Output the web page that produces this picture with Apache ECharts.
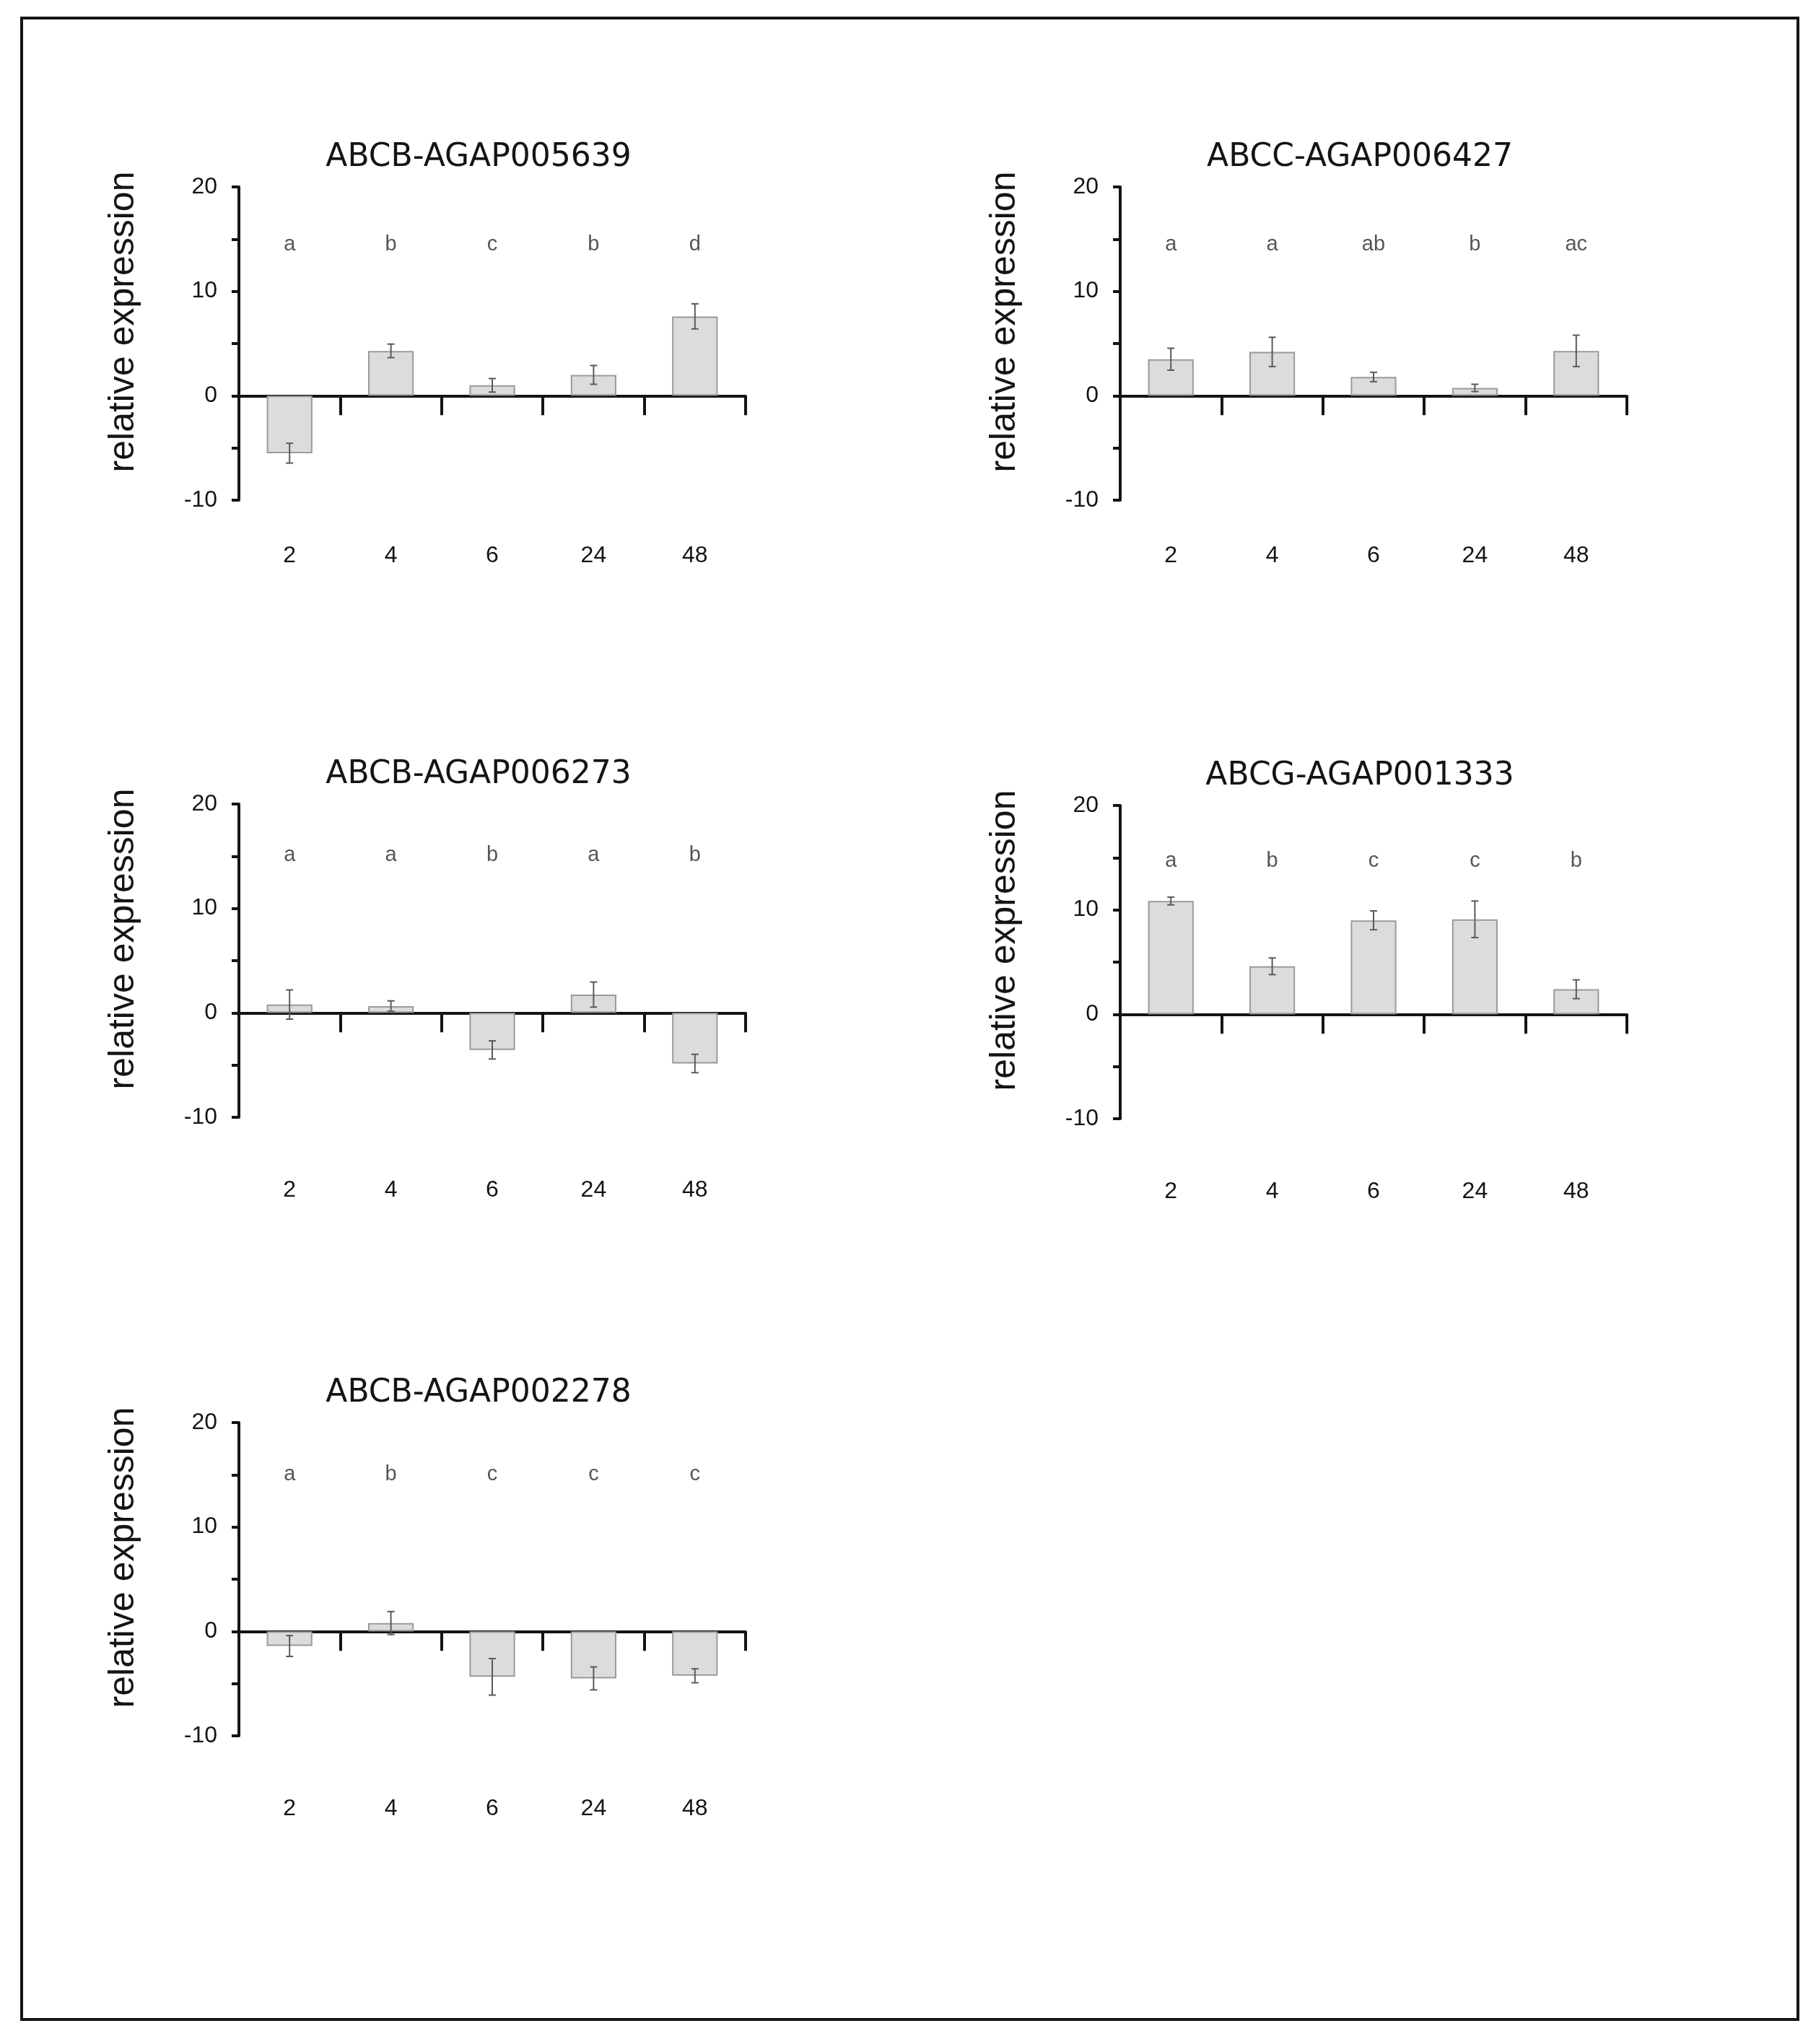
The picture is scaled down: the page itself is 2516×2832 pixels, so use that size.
<!DOCTYPE html>
<html>
<head>
<meta charset="utf-8">
<title>Relative expression of ABC transporters</title>
<script src="https://cdn.jsdelivr.net/npm/echarts@6/dist/echarts.min.js"></script>
<style>
  html, body { margin: 0; padding: 0; background: #fff; }
  #chart { width: 2516px; height: 2832px; }
</style>
</head>
<body>
<div id="chart"></div>
<script>
// ---- data ----
const TIMES = ['2', '4', '6', '24', '48'];
const GENES = ['ABCB-AGAP005639', 'ABCC-AGAP006427', 'ABCB-AGAP006273', 'ABCG-AGAP001333', 'ABCB-AGAP002278'];

const MEAN_005639 = [-5.5, 4.3, 1.0, 2.0, 7.6];
const ERR_005639  = [0.95, 0.65, 0.65, 0.9, 1.2];
const LET_005639  = ['a', 'b', 'c', 'b', 'd'];

const MEAN_006427 = [3.5, 4.2, 1.8, 0.75, 4.3];
const ERR_006427  = [1.05, 1.4, 0.45, 0.35, 1.5];
const LET_006427  = ['a', 'a', 'ab', 'b', 'ac'];

const MEAN_006273 = [0.8, 0.65, -3.55, 1.75, -4.85];
const ERR_006273  = [1.4, 0.5, 0.87, 1.2, 0.88];
const LET_006273  = ['a', 'a', 'b', 'a', 'b'];

const MEAN_001333 = [10.85, 4.6, 9.0, 9.1, 2.4];
const ERR_001333  = [0.37, 0.8, 0.9, 1.75, 0.9];
const LET_001333  = ['a', 'b', 'c', 'c', 'b'];

const MEAN_002278 = [-1.4, 0.8, -4.35, -4.5, -4.25];
const ERR_002278  = [1.0, 1.1, 1.75, 1.1, 0.67];
const LET_002278  = ['a', 'b', 'c', 'c', 'c'];

// height (in y units) at which the significance letters sit
const LETTER_LEVEL = [14.5, 14.5, 15.1, 14.7, 15.0];

const Y_MIN = -10, Y_MAX = 20, Y_TICK = 5, Y_LABEL_STEP = 10;
const Y_NAME = 'relative expression';

const MEANS = [MEAN_005639, MEAN_006427, MEAN_006273, MEAN_001333, MEAN_002278];
const ERRS = [ERR_005639, ERR_006427, ERR_006273, ERR_001333, ERR_002278];
const LETTERS = [LET_005639, LET_006427, LET_006273, LET_001333, LET_002278];

// ---- layout of the five panels (px) ----
const PANELS = [
  { left: 331,  top: 259,  labelGap: 61 },
  { left: 1552, top: 259,  labelGap: 61 },
  { left: 331,  top: 1114, labelGap: 85 },
  { left: 1552, top: 1116, labelGap: 85 },
  { left: 331,  top: 1971, labelGap: 85 }
];
const PW = 702, PH = 434;
const INK = '#141414';
const SANS = 'Liberation Sans, Arial, sans-serif';

const chart = echarts.init(document.getElementById('chart'), null, { renderer: 'canvas' });

const grid = [], xAxis = [], yAxis = [], series = [], title = [];

PANELS.forEach((p, k) => {
  grid.push({ left: p.left, top: p.top, width: PW, height: PH, containLabel: false });

  title.push({
    text: GENES[k], left: p.left + PW / 2 - 19, top: p.top - 62, textAlign: 'center', padding: 0,
    textStyle: { fontFamily: 'DejaVu Sans, sans-serif', fontSize: 44, fontWeight: 'normal', color: INK }
  });

  // axis line through zero with downward ticks at the category boundaries
  xAxis.push({
    type: 'category', gridIndex: k, data: TIMES,
    axisLine: { onZero: true, lineStyle: { color: INK, width: 4 } },
    axisTick: { show: true, length: 27, lineStyle: { color: INK, width: 4 } },
    axisLabel: { show: false }, splitLine: { show: false }
  });
  // time labels under the panel
  xAxis.push({
    type: 'category', gridIndex: k, data: TIMES, position: 'bottom',
    axisLine: { show: false, onZero: false }, axisTick: { show: false },
    axisLabel: { margin: p.labelGap, fontSize: 32, fontFamily: SANS, color: INK },
    splitLine: { show: false }
  });

  yAxis.push({
    type: 'value', gridIndex: k, min: Y_MIN, max: Y_MAX, interval: Y_TICK,
    name: Y_NAME, nameLocation: 'middle', nameGap: 135,
    nameTextStyle: { fontSize: 50, fontFamily: SANS, color: INK, padding: [0, 0, 0, 60] },
    axisLine: { show: true, lineStyle: { color: INK, width: 4 } },
    axisTick: { show: true, length: 10, lineStyle: { color: INK, width: 4 } },
    axisLabel: { margin: 30, fontSize: 32, fontFamily: SANS, color: INK,
      formatter: v => (v % Y_LABEL_STEP === 0 ? String(v) : '') },
    splitLine: { show: false }
  });

  series.push({
    type: 'bar', xAxisIndex: 2 * k, yAxisIndex: k, data: MEANS[k], barWidth: '45%',
    itemStyle: { color: '#dcdcdc', borderColor: '#9a9a9a', borderWidth: 2 },
    emphasis: { disabled: true }, silent: true, z: 2
  });

  series.push({
    type: 'custom', xAxisIndex: 2 * k, yAxisIndex: k, z: 3, silent: true,
    data: MEANS[k].map((m, i) => [i, m, ERRS[k][i]]),
    encode: { x: 0, y: 1 },
    renderItem: (params, api) => {
      const i = api.value(0), m = api.value(1), e = api.value(2);
      const hi = api.coord([i, m + e]), lo = api.coord([i, m - e]);
      const st = { stroke: '#5a5a5a', lineWidth: 2 };
      const cap = 5;
      return { type: 'group', children: [
        { type: 'line', shape: { x1: hi[0], y1: hi[1], x2: lo[0], y2: lo[1] }, style: st },
        { type: 'line', shape: { x1: hi[0] - cap, y1: hi[1], x2: hi[0] + cap, y2: hi[1] }, style: st },
        { type: 'line', shape: { x1: lo[0] - cap, y1: lo[1], x2: lo[0] + cap, y2: lo[1] }, style: st }
      ] };
    }
  });

  series.push({
    type: 'scatter', xAxisIndex: 2 * k, yAxisIndex: k, silent: true, z: 4,
    symbol: 'circle', symbolSize: 1, itemStyle: { color: 'rgba(0,0,0,0)' },
    data: LETTERS[k].map((s, i) => ({ value: [i, LETTER_LEVEL[k]], name: s })),
    label: { show: true, position: 'inside', formatter: q => q.name,
      fontSize: 29, fontFamily: SANS, color: '#2a2a2a' }
  });
});

chart.setOption({
  backgroundColor: '#ffffff',
  animation: false,
  title, grid, xAxis, yAxis, series,
  graphic: [{
    type: 'rect', silent: true,
    shape: { x: 30, y: 25, width: 2461, height: 2773 },
    style: { fill: 'none', stroke: INK, lineWidth: 4 }
  }]
});
</script>
</body>
</html>
